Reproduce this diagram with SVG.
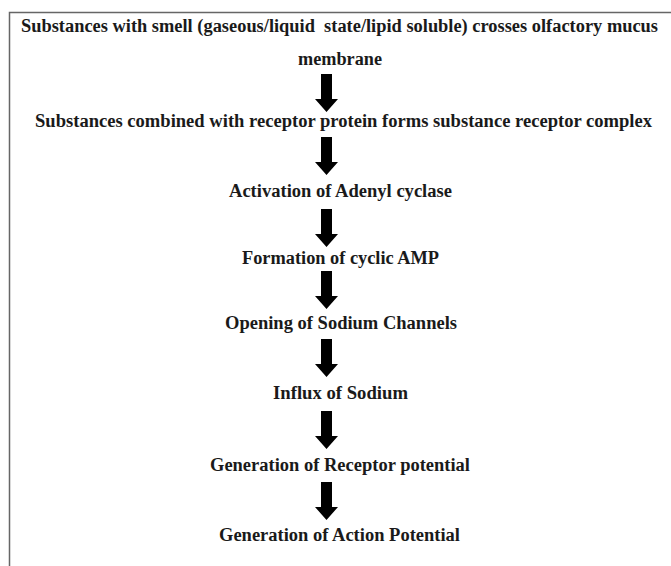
<svg xmlns="http://www.w3.org/2000/svg" xmlns:xlink="http://www.w3.org/1999/xlink" width="671" height="566" viewBox="0 0 671 566">
  <style>
    .lbl { font-family: "Liberation Serif", "Times New Roman", serif; font-weight: bold; font-size: 18.5px; fill: #1a1a1a; }
    .frame { fill: none; stroke: #666; stroke-width: 1.5; }
    .arr { fill: #000; }
  </style>
  <defs>
    <path id="arrow" class="arr" d="M-5.5,0 H5.5 V25 H11.5 L0,38 L-11.5,25 H-5.5 Z"/>
  </defs>
  <rect x="0" y="0" width="671" height="566" fill="#fff"/>
  <path class="frame" d="M9.5,566 V12.5 H671"/>

  <g id="n1">
    <text class="lbl" x="21" y="32" textLength="637" lengthAdjust="spacingAndGlyphs" xml:space="preserve">Substances with smell (gaseous/liquid  state/lipid soluble) crosses olfactory mucus</text>
    <text class="lbl" x="298" y="65" textLength="84" lengthAdjust="spacingAndGlyphs">membrane</text>
  </g>
  <g id="n2">
    <text class="lbl" x="35" y="127" textLength="617" lengthAdjust="spacingAndGlyphs">Substances combined with receptor protein forms substance receptor complex</text>
  </g>
  <g id="n3">
    <text class="lbl" x="229" y="197" textLength="223" lengthAdjust="spacingAndGlyphs">Activation of Adenyl cyclase</text>
  </g>
  <g id="n4">
    <text class="lbl" x="242" y="264" textLength="197" lengthAdjust="spacingAndGlyphs">Formation of cyclic AMP</text>
  </g>
  <g id="n5">
    <text class="lbl" x="225" y="329" textLength="232" lengthAdjust="spacingAndGlyphs">Opening of Sodium Channels</text>
  </g>
  <g id="n6">
    <text class="lbl" x="273" y="399" textLength="135" lengthAdjust="spacingAndGlyphs">Influx of Sodium</text>
  </g>
  <g id="n7">
    <text class="lbl" x="210" y="471" textLength="260" lengthAdjust="spacingAndGlyphs">Generation of Receptor potential</text>
  </g>
  <g id="n8">
    <text class="lbl" x="219" y="541" textLength="241" lengthAdjust="spacingAndGlyphs">Generation of Action Potential</text>
  </g>

  <g id="connectors">
    <use xlink:href="#arrow" href="#arrow" x="326.5" y="74"/>
    <use xlink:href="#arrow" href="#arrow" x="326.5" y="137"/>
    <use xlink:href="#arrow" href="#arrow" x="326.5" y="209"/>
    <use xlink:href="#arrow" href="#arrow" x="326.5" y="271"/>
    <use xlink:href="#arrow" href="#arrow" x="326.5" y="339"/>
    <use xlink:href="#arrow" href="#arrow" x="326.5" y="411"/>
    <use xlink:href="#arrow" href="#arrow" x="326.5" y="482"/>
  </g>
</svg>
